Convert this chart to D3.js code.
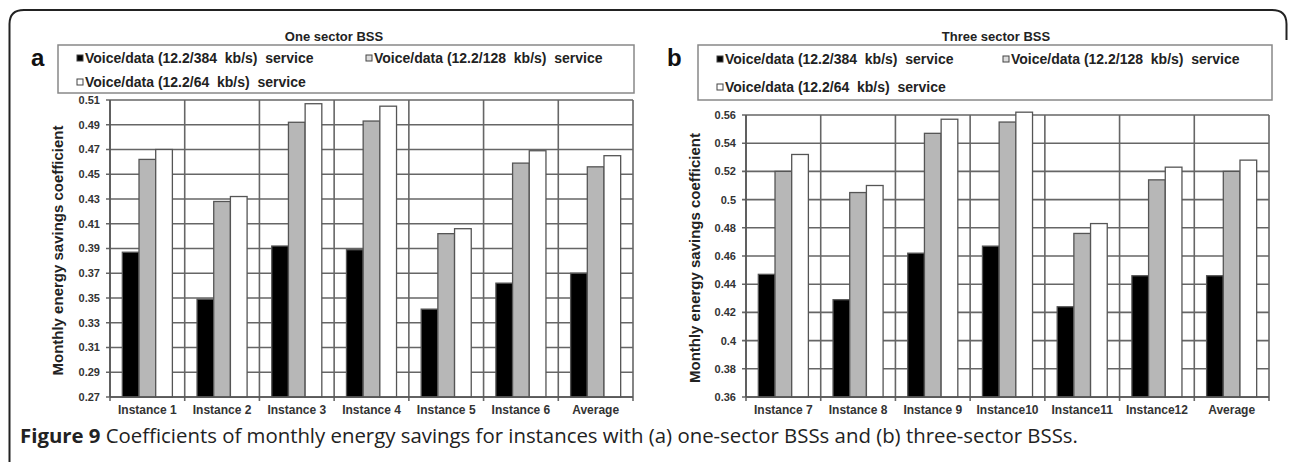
<!DOCTYPE html>
<html><head><meta charset="utf-8">
<script src="https://cdn.jsdelivr.net/npm/d3@7"></script>
<style>
html,body{margin:0;padding:0;background:#fff;}
svg{display:block;}
text{font-family:Arial,"Liberation Sans",sans-serif;}
</style></head>
<body><svg id="c" width="1292" height="462"></svg>
<script>
// ---- data ----
const seriesNames = ["Voice/data (12.2/384  kb/s)  service","Voice/data (12.2/128  kb/s)  service","Voice/data (12.2/64  kb/s)  service"];
const seriesFill = ["#000000","#b7b7b7","#ffffff"];

const catsA = ["Instance 1","Instance 2","Instance 3","Instance 4","Instance 5","Instance 6","Average"];
const a384 = [0.387,0.349,0.392,0.389,0.341,0.362,0.370];
const a128 = [0.462,0.428,0.492,0.493,0.402,0.459,0.456];
const a64  = [0.470,0.432,0.507,0.505,0.406,0.469,0.465];
const ticksA = ["0.27","0.29","0.31","0.33","0.35","0.37","0.39","0.41","0.43","0.45","0.47","0.49","0.51"];

const catsB = ["Instance 7","Instance 8","Instance 9","Instance10","Instance11","Instance12","Average"];
const b384 = [0.447,0.429,0.462,0.467,0.424,0.446,0.446];
const b128 = [0.520,0.505,0.547,0.555,0.476,0.514,0.520];
const b64  = [0.532,0.510,0.557,0.562,0.483,0.523,0.528];
const ticksB = ["0.36","0.38","0.4","0.42","0.44","0.46","0.48","0.5","0.52","0.54","0.56"];

const titleA = "One sector BSS", titleB = "Three sector BSS";
const yTitle = "Monthly energy savings coefficient";
const captionBold = "Figure 9";
const captionRest = " Coefficients of monthly energy savings for instances with (a) one-sector BSSs and (b) three-sector BSSs.";

const svg = d3.select("#c");

// outer frame
svg.append("path")
  .attr("d","M9.5,462 L9.5,24 Q9.5,10 24,10 L1272,10 Q1286.5,10 1286.5,24 L1286.5,40")
  .attr("fill","none").attr("stroke","#222").attr("stroke-width",2);

function panel(cfg){
  const {cats, vals, ticks, x0, x1, yTop, yBot, leg, title, titleX, letter, letterX, yTitleX} = cfg;
  const g = svg.append("g");
  const tv = ticks.map(Number);
  const y = d3.scaleLinear().domain([tv[0], tv[tv.length-1]]).range([yBot, yTop]);
  const x = d3.scaleBand().domain(cats).range([x0, x1]).padding(0);
  const bw = x.bandwidth();
  const xs = d3.scaleBand().domain([0,1,2]).range([bw*0.165, bw*0.835]).padding(0);

  g.append("g").selectAll("line").data(tv).join("line")
    .attr("x1", x0-4).attr("x2", x1).attr("y1", d=>y(d)).attr("y2", d=>y(d))
    .attr("stroke","#666").attr("stroke-width",1.6);
  const bounds = cats.map(c=>x(c)).concat([x1]);
  g.append("g").selectAll("line").data(bounds).join("line")
    .attr("x1", d=>d).attr("x2", d=>d).attr("y1", yTop).attr("y2", yBot+4)
    .attr("stroke","#666").attr("stroke-width",1.6);

  const rows = [];
  cats.forEach((c,i)=>vals.forEach((s,k)=>rows.push({c, k, v:s[i]})));
  g.append("g").selectAll("rect").data(rows).join("rect")
    .attr("x", d=>x(d.c)+xs(d.k)).attr("width", xs.bandwidth())
    .attr("y", d=>y(d.v)).attr("height", d=>yBot - y(d.v))
    .attr("fill", d=>seriesFill[d.k]).attr("stroke","#555").attr("stroke-width",1.3);

  g.append("line").attr("x1",x0).attr("x2",x0).attr("y1",yTop).attr("y2",yBot)
    .attr("stroke","#555").attr("stroke-width",1.5);
  g.append("line").attr("x1",x0).attr("x2",x1).attr("y1",yBot).attr("y2",yBot)
    .attr("stroke","#555").attr("stroke-width",1.5);

  g.append("g").selectAll("text").data(ticks).join("text")
    .attr("x", x0-10).attr("y", d=>y(+d)).attr("dy","0.36em")
    .attr("text-anchor","end").attr("font-size",11).attr("font-weight","bold").attr("fill","#333")
    .text(d=>d);
  g.append("g").selectAll("text").data(cats).join("text")
    .attr("x", d=>x(d)+bw/2).attr("y", yBot+17)
    .attr("text-anchor","middle").attr("font-size",12).attr("font-weight","bold").attr("fill","#333")
    .text(d=>d);

  g.append("text").attr("transform",`translate(${yTitleX},${(yTop+yBot)/2+2}) rotate(-90)`)
    .attr("text-anchor","middle").attr("dy","0.35em")
    .attr("font-size",15).attr("font-weight","bold").attr("fill","#222")
    .text(yTitle);

  g.append("text").attr("x", titleX).attr("y", 41).attr("text-anchor","middle")
    .attr("font-size",13).attr("font-weight","bold").attr("fill","#222").text(title);
  g.append("text").attr("x", letterX).attr("y", 66).attr("font-size",24)
    .attr("font-weight","bold").attr("fill","#111").text(letter);

  g.append("rect").attr("x",leg.x).attr("y",leg.y).attr("width",leg.w).attr("height",leg.h)
    .attr("fill","#fff").attr("stroke","#888").attr("stroke-width",1.5);
  const items = [
    {k:0, sx:leg.c1, sy:leg.r1},
    {k:1, sx:leg.c2, sy:leg.r1},
    {k:2, sx:leg.c1, sy:leg.r2}
  ];
  const li = g.append("g").selectAll("g").data(items).join("g")
    .attr("transform", d=>`translate(${d.sx},${d.sy})`);
  li.append("rect").attr("x",0).attr("y",-3).attr("width",6).attr("height",6)
    .attr("fill", d=>d.k===0?"#000":(d.k===1?"#ddd":"#fff")).attr("stroke","#444").attr("stroke-width",1);
  li.append("text").attr("x",8).attr("dy","0.36em").attr("font-size",14).attr("font-weight","bold")
    .attr("fill","#222").style("white-space","pre").text(d=>seriesNames[d.k]);
}

panel({cats:catsA, vals:[a384,a128,a64], ticks:ticksA, x0:110, x1:633, yTop:100, yBot:397,
  leg:{x:58,y:45,w:576,h:48,c1:77,c2:366,r1:58,r2:82}, title:titleA, titleX:334,
  letter:"a", letterX:31, yTitleX:58});
panel({cats:catsB, vals:[b384,b128,b64], ticks:ticksB, x0:746, x1:1269, yTop:115, yBot:397,
  leg:{x:698,y:45,w:574,h:55,c1:717,c2:1003,r1:59,r2:87}, title:titleB, titleX:996,
  letter:"b", letterX:667, yTitleX:695});

// caption (fit to the reference's width)
const cap = svg.append("text").attr("x",20).attr("y",443)
  .style("font-family","'Open Sans','Noto Sans',sans-serif").attr("font-size",16).attr("fill","#222");
cap.append("tspan").attr("font-weight","bold").text(captionBold);
cap.append("tspan").text(captionRest);
const w = cap.node().getComputedTextLength();
cap.attr("font-size", 16 * 1058 / w);
</script></body></html>
